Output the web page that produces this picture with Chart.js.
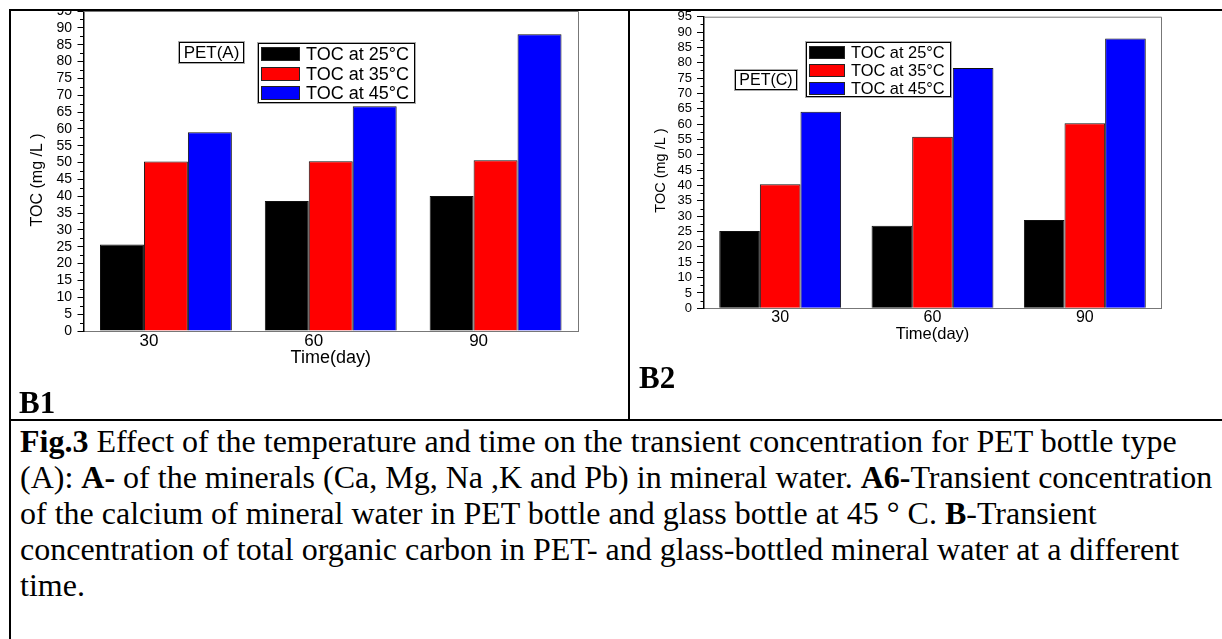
<!DOCTYPE html>
<html>
<head>
<meta charset="utf-8">
<script src="https://cdn.jsdelivr.net/npm/chart.js@4.4.1/dist/chart.umd.min.js"></script>
<style>
    html, body { margin: 0; padding: 0; background: #fff; }
    body { width: 1222px; height: 639px; position: relative; overflow: hidden; font-family: "Liberation Sans", Arial, sans-serif; color: #000; }
    .rule { position: absolute; background: #000; }
    .clip { position: absolute; overflow: hidden; }
    .inner { position: absolute; left: 0; top: -11px; }
    .legend { position: absolute; border: 1px solid #000; box-shadow: 0 0 0 1px #aaa; background: #fff; }
    .legend .sw { position: absolute; border: 1px solid #222; box-sizing: border-box; }
    .legend .tx { position: absolute; white-space: nowrap; line-height: 1; }
    .tag { position: absolute; border: 1px solid #000; box-shadow: 0 0 0 1px #aaa; background: #fff; text-align: center; white-space: nowrap; box-sizing: border-box; }
    .plabel { position: absolute; font-family: "Liberation Serif", "Times New Roman", serif; font-weight: bold; font-size: 31px; line-height: 1; }
    .caption { position: absolute; left: 20px; top: 423px; font-family: "Liberation Serif", "Times New Roman", serif; font-size: 32px; line-height: 36px; white-space: nowrap; }
</style>
</head>
<body>

<!-- table borders -->
<div class="rule" style="left:9px;top:9px;width:1213px;height:2px;"></div>
<div class="rule" style="left:9px;top:9px;width:2px;height:630px;"></div>
<div class="rule" style="left:628px;top:9px;width:2px;height:412px;"></div>
<div class="rule" style="left:9px;top:419px;width:1213px;height:2px;"></div>

<div class="clip" style="left:11px;top:11px;width:617px;height:408px;">
    <div class="inner" style="width:617px;height:419px;"><canvas id="chart-b1"></canvas></div>
</div>
<div class="clip" style="left:630px;top:11px;width:592px;height:408px;">
    <div class="inner" style="width:592px;height:419px;"><canvas id="chart-b2"></canvas></div>
</div>

<div class="plabel" style="left:19px;top:387px;">B1</div>
<div class="plabel" style="left:639px;top:362px;">B2</div>

<div class="caption">
    <div><b>Fig.3</b> Effect of the temperature and time on the transient concentration for PET bottle type</div>
    <div>(A): <b>A-</b> of the minerals (Ca, Mg, Na ,K and Pb) in mineral water. <b>A6-</b>Transient concentration</div>
    <div>of the calcium of mineral water in PET bottle and glass bottle at 45 ° C. <b>B</b>-Transient</div>
    <div>concentration of total organic carbon in PET- and glass-bottled mineral water at a different</div>
    <div>time.</div>
</div>

<script>
// ---- data ----
const days = ['30', '60', '90'];
const seriesNames = ['TOC at 25°C', 'TOC at 35°C', 'TOC at 45°C'];
const seriesColors = ['#000000', '#ff0000', '#0000ff'];

// PET(A)
const petA25 = [25.7, 38.6, 40.1];
const petA35 = [50.3, 50.4, 50.7];
const petA45 = [59.0, 66.7, 88.1];

// PET(C)
const petC25 = [25.2, 26.9, 28.8];
const petC35 = [40.4, 55.9, 60.3];
const petC45 = [64.0, 78.3, 87.9];

const yMin = 0;
const yMax = 95;
const yStep = 5;

const SANS = '"Liberation Sans", Arial, sans-serif';

// top/right frame plus minor ticks on the left axis
const framePlugin = {
    id: 'frame',
    afterDatasetsDraw(chart) {
        const { ctx, chartArea: a } = chart;
        const y = chart.scales.y;
        ctx.save();
        ctx.strokeStyle = '#777';
        ctx.lineWidth = 1;
        ctx.beginPath();
        ctx.moveTo(a.left, a.top + 0.5);
        ctx.lineTo(a.right + 0.5, a.top + 0.5);
        ctx.lineTo(a.right + 0.5, a.bottom);
        ctx.stroke();

        ctx.strokeStyle = '#000';
        ctx.beginPath();
        for (let v = yMin + yStep / 2; v < yMax; v += yStep) {
            const py = Math.round(y.getPixelForValue(v)) + 0.5;
            ctx.moveTo(a.left - 3.5, py);
            ctx.lineTo(a.left, py);
        }
        ctx.stroke();
        ctx.restore();
    }
};

function makeChart(canvasId, values, g) {
    const ctx = document.getElementById(canvasId).getContext('2d');
    return new Chart(ctx, {
        type: 'bar',
        data: {
            labels: days,
            datasets: values.map((vals, i) => ({
                label: seriesNames[i],
                data: vals,
                backgroundColor: seriesColors[i],
                borderColor: '#111',
                borderWidth: 1,
                categoryPercentage: 0.8,
                barPercentage: 1.0
            }))
        },
        options: {
            responsive: true,
            maintainAspectRatio: false,
            animation: false,
            devicePixelRatio: 1,
            layout: { padding: { left: 0, right: g.padRight, top: g.padTop, bottom: 0 } },
            plugins: {
                legend: { display: false }, // legend built in HTML
                tooltip: { enabled: false }
            },
            scales: {
                x: {
                    grid: { display: false, drawTicks: false },
                    border: { display: true, color: '#777', width: 1 },
                    ticks: {
                        color: '#000',
                        font: { family: SANS, size: g.xTickSize, lineHeight: 1 },
                        padding: g.xTickPad,
                        labelOffset: g.labelOffset,
                        maxRotation: 0
                    },
                    title: {
                        display: true,
                        text: 'Time(day)',
                        color: '#000',
                        font: { family: SANS, size: g.xTitleSize, lineHeight: 1 },
                        padding: { top: 0, bottom: g.xTitleBottom }
                    },
                    afterFit(scale) {
                        scale.height = g.xHeight;
                        scale.paddingLeft = 0;
                        scale.paddingRight = 0;
                    }
                },
                y: {
                    min: yMin,
                    max: yMax,
                    grid: { drawOnChartArea: false, drawTicks: true, tickLength: g.tickLen, color: '#000' },
                    border: { display: true, color: '#000', width: 1.5 },
                    ticks: {
                        stepSize: yStep,
                        autoSkip: false,
                        color: '#000',
                        font: { family: SANS, size: g.yTickSize, lineHeight: 1 },
                        padding: g.yTickPad
                    },
                    title: {
                        display: true,
                        text: 'TOC (mg /L )    ',
                        color: '#000',
                        font: { family: SANS, size: g.yTitleSize, lineHeight: 1 },
                        padding: { top: g.yTitleTop, bottom: 0 }
                    },
                    afterFit(scale) {
                        scale.width = g.yWidth;
                        scale.paddingTop = 0;
                        scale.paddingBottom = 0;
                    }
                }
            }
        },
        plugins: [framePlugin]
    });
}

function makeLegend(g) {
    const box = document.createElement('div');
    box.className = 'legend';
    Object.assign(box.style, { left: g.left + 'px', top: g.top + 'px', width: g.w + 'px', height: g.h + 'px' });
    seriesNames.forEach((name, i) => {
        const cy = g.rows[i];
        const sw = document.createElement('div');
        sw.className = 'sw';
        Object.assign(sw.style, {
            left: g.swLeft + 'px', top: (cy - g.swH / 2) + 'px',
            width: g.swW + 'px', height: g.swH + 'px', background: seriesColors[i]
        });
        const tx = document.createElement('div');
        tx.className = 'tx';
        tx.textContent = name;
        Object.assign(tx.style, { left: g.txLeft + 'px', top: (cy - g.font / 2) + 'px', fontSize: g.font + 'px' });
        box.appendChild(sw);
        box.appendChild(tx);
    });
    document.body.appendChild(box);

    const tag = document.createElement('div');
    tag.className = 'tag';
    tag.textContent = g.tag;
    Object.assign(tag.style, {
        left: g.tagLeft + 'px', top: g.tagTop + 'px', width: g.tagW + 'px', height: g.tagH + 'px',
        fontSize: g.tagFont + 'px', lineHeight: (g.tagH - 2) + 'px'
    });
    document.body.appendChild(tag);
}

makeChart('chart-b1', [petA25, petA35, petA45], {
    padRight: 50, padTop: 11, yWidth: 72.5, xHeight: 88,
    yTickSize: 14, yTickPad: 5.5, tickLen: 6, yTitleSize: 16, yTitleTop: 18.5,
    xTickSize: 17, xTickPad: 1.5, labelOffset: -17, xTitleSize: 18, xTitleBottom: 52
});

makeChart('chart-b2', [petC25, petC35, petC45], {
    padRight: 61, padTop: 16.7, yWidth: 74, xHeight: 110.7,
    yTickSize: 13, yTickPad: 5, tickLen: 7, yTitleSize: 14.5, yTitleTop: 24,
    xTickSize: 16, xTickPad: 1.7, labelOffset: 0, xTitleSize: 16.5, xTitleBottom: 76.7
});

makeLegend({
    left: 258, top: 43, w: 155, h: 58, rows: [10, 30, 49],
    swLeft: 2, swW: 39, swH: 14, txLeft: 47, font: 18,
    tag: 'PET(A)', tagLeft: 179, tagTop: 42, tagW: 65, tagH: 21, tagFont: 17
});

makeLegend({
    left: 806, top: 42, w: 143, h: 53, rows: [9, 27, 45],
    swLeft: 2, swW: 36, swH: 13, txLeft: 44, font: 16.4,
    tag: 'PET(C)', tagLeft: 735, tagTop: 70, tagW: 62, tagH: 20, tagFont: 16
});
</script>
</body>
</html>
